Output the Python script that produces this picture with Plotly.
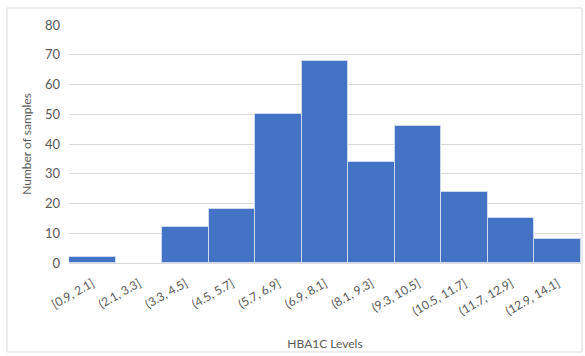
import plotly.graph_objects as go

bins = ["[0.9, 2.1]", "(2.1, 3.3]", "(3.3, 4.5]", "(4.5, 5.7]", "(5.7, 6.9]", "(6.9, 8.1]",
        "(8.1, 9.3]", "(9.3, 10.5]", "(10.5, 11.7]", "(11.7, 12.9]", "(12.9, 14.1]"]
counts = [2, 0, 12, 18, 50, 68, 34, 46, 24, 15, 8]
y_ticks = [0, 10, 20, 30, 40, 50, 60, 70, 80]

W, H = 585, 356
L, R, T, B = 69, 4, 25, 93
pw, ph = W - L - R, H - T - B

def px_x(x):
    return (x - L) / pw

def px_y(y):
    return (H - B - y) / ph

# empty bins get no outline so they stay invisible
edge_widths = [1 if c > 0 else 0 for c in counts]

fig = go.Figure(go.Bar(
    x=bins, y=counts,
    marker=dict(color="#4472C4", line=dict(color="#cfd9ee", width=edge_widths)),
))

font = "Lato, Carlito, 'Liberation Sans', sans-serif"
fig.update_layout(
    width=W, height=H,
    margin=dict(l=L, r=R, t=T, b=B),
    paper_bgcolor="white", plot_bgcolor="white",
    bargap=0, showlegend=False,
    font=dict(family=font, color="#595959", size=12),
    xaxis=dict(
        tickangle=-30, tickfont=dict(size=12, color="#595959"),
        showgrid=False, showline=True, linecolor="#d9d9d9", linewidth=1,
        ticks="", ticklabelstandoff=8,
        title=dict(text="HBA1C Levels", font=dict(size=12, color="#595959"), standoff=22),
    ),
    yaxis=dict(
        range=[0, 80], tickvals=y_ticks, tickfont=dict(size=13, color="#595959"),
        showgrid=True, gridcolor="#d9d9d9", gridwidth=1, zeroline=False,
        ticks="", ticklen=0, ticklabelstandoff=8,
        title=dict(text="Number of samples", font=dict(size=12, color="#595959"), standoff=10),
    ),
    shapes=[dict(
        type="rect", xref="paper", yref="paper",
        x0=px_x(7), x1=px_x(582), y0=px_y(352), y1=px_y(8),
        line=dict(color="#d9d9d9", width=1), fillcolor="rgba(0,0,0,0)", layer="below",
    )],
)

fig.write_html("out.html")
